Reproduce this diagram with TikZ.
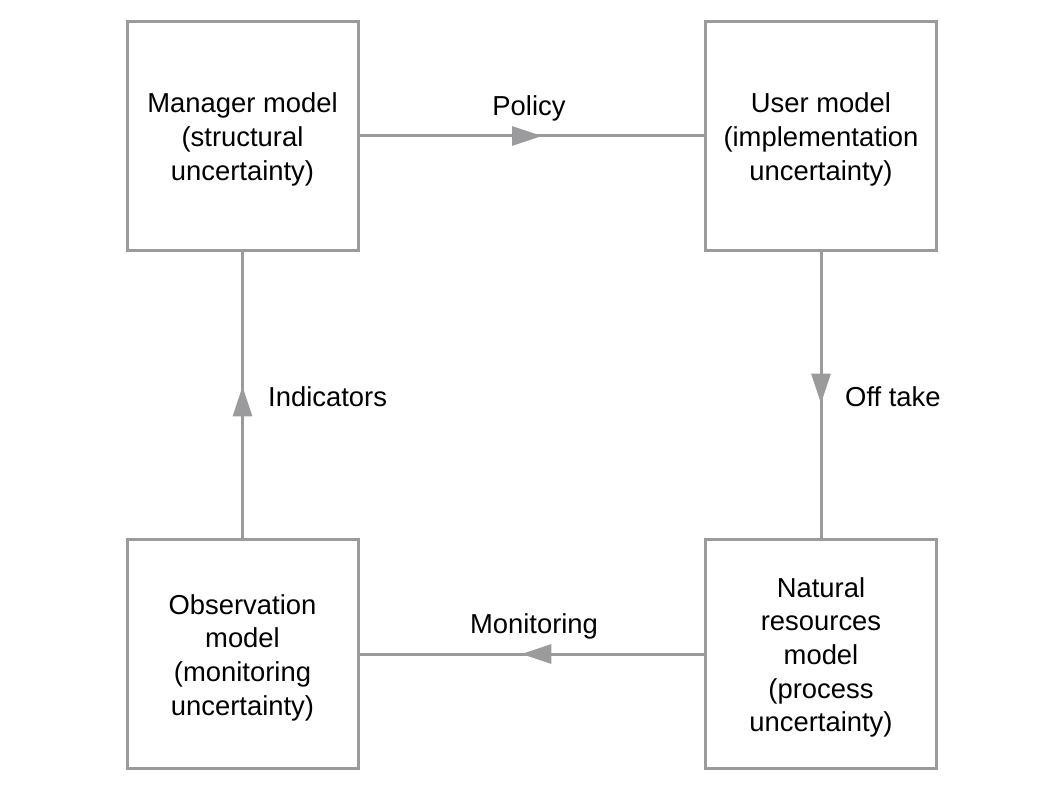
\documentclass[tikz,border=0pt]{standalone}
\usepackage{fontspec}
\setmainfont{Liberation Sans}
\usetikzlibrary{arrows.meta}
\definecolor{linegray}{HTML}{9B9B9E}
\begin{document}
\begin{tikzpicture}[x=1pt,y=-1pt,
  modelbox/.style={draw=linegray, line width=3pt, minimum width=231pt, minimum height=229pt, inner sep=0pt},
  boxtext/.style={align=center, inner sep=0pt, font=\fontsize{27.4}{33.7}\selectfont},
  conn/.style={draw=linegray, line width=3pt},
  headtip/.style={-{Triangle[length=30pt,width=19pt]}, linegray},
  lbl/.style={font=\fontsize{27.4}{33.7}\selectfont, inner sep=0pt}]
\useasboundingbox (0,0) rectangle (1058,794);

% the four models
\node[modelbox] (man) at (242.5,136) {};
\node[modelbox] (usr) at (821,136) {};
\node[modelbox] (obs) at (242.5,654) {};
\node[modelbox] (nat) at (821,654) {};

\node[boxtext] (tman) at ([yshift=-3.5pt]man.center) {Manager model\\(structural\\uncertainty)};
\node[boxtext] (tusr) at ([yshift=-3.5pt]usr.center) {User model\\(implementation\\uncertainty)};
\node[boxtext] (tobs) at ([yshift=-3.5pt]obs.center) {Observation\\model\\(monitoring\\uncertainty)};
\node[boxtext] (tnat) at ([yshift=-3.5pt]nat.center) {Natural\\resources\\model\\(process\\uncertainty)};

% connectors, each with an arrowhead a little past its middle
\foreach \a/\b/\t in {man.east/usr.west/tp, usr.south/nat.north/to, nat.west/obs.east/tm, obs.north/man.south/ti}{
  \draw[conn] (\a) -- (\b);
  \path (\a) -- coordinate[pos=0.53] (\t) (\b);
  \draw[conn, headtip] (\a) -- (\t);
}

% labels
\node[lbl] (lpol) at (529,108) {Policy};
\node[lbl, anchor=west] (loff) at (845,397) {Off take};
\node[lbl, anchor=west] (lind) at (268,397) {Indicators};
\node[lbl] (lmon) at (534,626) {Monitoring};
\end{tikzpicture}
\end{document}
